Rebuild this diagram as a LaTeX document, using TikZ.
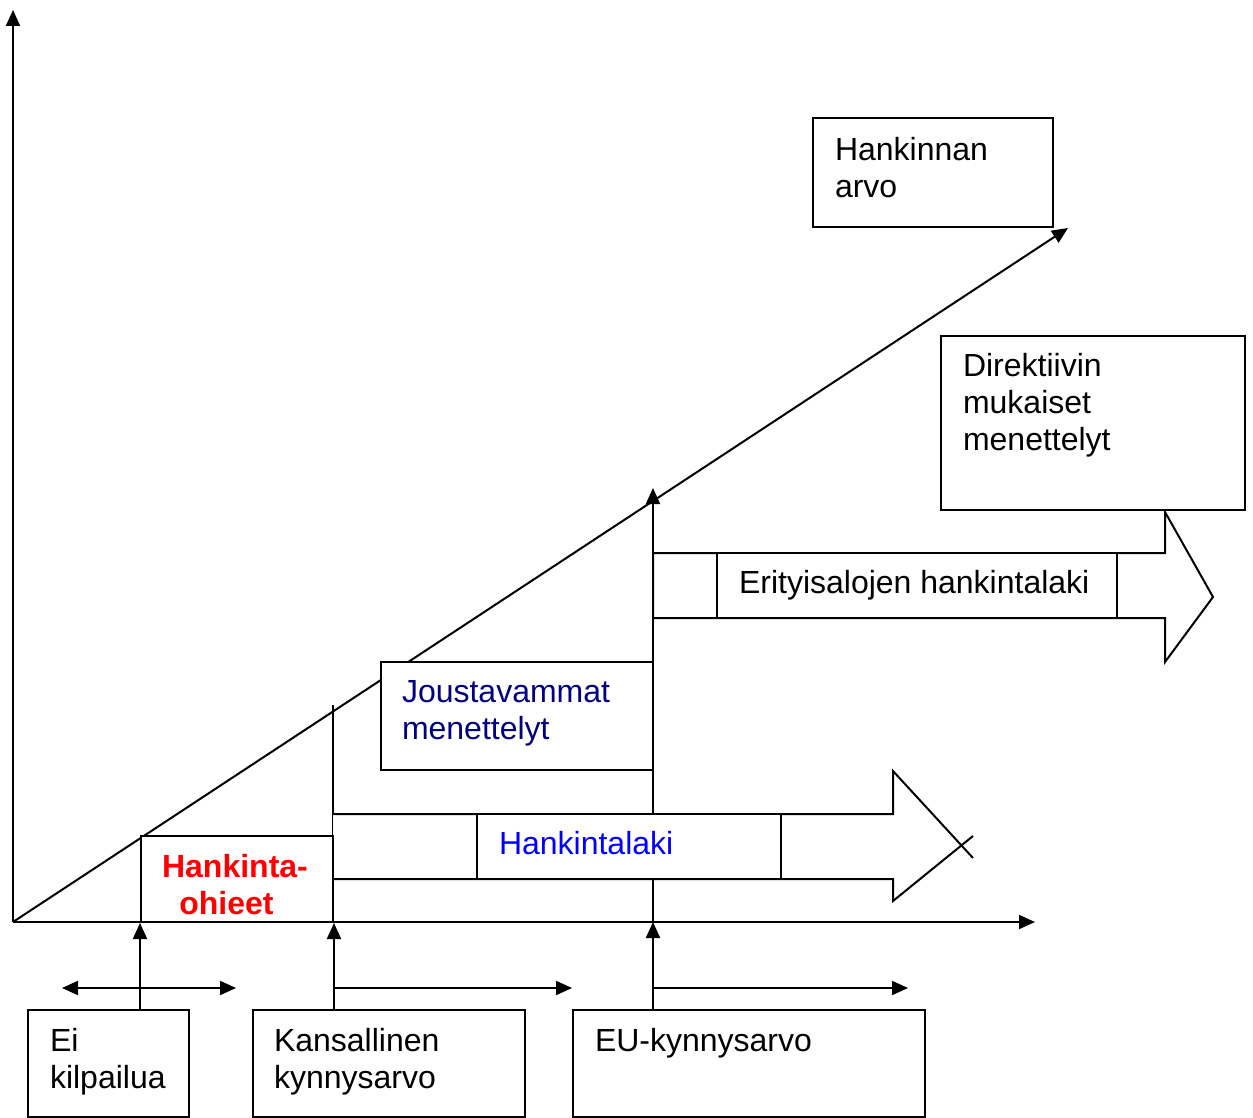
\documentclass[tikz,border=0pt]{standalone}
\usepackage{fontspec}
\setmainfont{Liberation Sans}
\usetikzlibrary{arrows.meta}
\definecolor{navyblue}{RGB}{0,0,128}
\definecolor{pureblue}{RGB}{0,0,255}
\definecolor{purered}{RGB}{255,0,0}
\begin{document}
\begin{tikzpicture}[x=1pt,y=-1pt,
  line width=2pt,
  tip/.style={-{Triangle[length=16pt,width=14pt]}},
  dtip/.style={{Triangle[length=16pt,width=14pt]}-{Triangle[length=16pt,width=14pt]}},
  box/.style={draw, fill=white, rectangle, inner sep=0pt},
  lbl/.style={inner sep=0pt, anchor=north west, align=left, font=\fontsize{32}{37}\selectfont},
  bigarrow/.style={draw, fill=white, line join=miter},
]
\useasboundingbox (0,0) rectangle (1253,1118);

% axes and diagonal
\coordinate (O) at (13,922);
\coordinate (Xe) at (1035,922);
\coordinate (Ye) at (13,10);
\coordinate (De) at (1068,228);
\draw[tip] (O) -- (Xe);
\draw[tip] (O) -- (Ye);
\draw[tip] (O) -- (De);

% threshold verticals above the axis
\coordinate (K0) at (333,922);
\coordinate (K1) at (333,705);
\coordinate (E0) at (653,922);
\coordinate (E1) at (653,488);
\draw (K0) -- (K1);
\draw[tip] (E0) -- (E1);

% big arrow: Hankintalaki
\path[fill=white] (333,814) -- (893,814) -- (893,771) -- (962,846) -- (893,901) -- (893,879) -- (333,879) -- cycle;
\draw (333,814) -- (893,814) -- (893,771) -- (973,858);
\draw (333,879) -- (893,879) -- (893,901) -- (973,836);

% big arrow: Erityisalojen hankintalaki
\draw[bigarrow] (653,553) -- (1165,553) -- (1165,512) -- (1213,597) -- (1165,662) -- (1165,618) -- (653,618) -- cycle;

% boxes
\node[box, minimum width=240pt, minimum height=109pt] (hv) at (933,172.5) {};
\node[box, minimum width=304pt, minimum height=174pt] (dir) at (1093,423) {};
\node[box, minimum width=400pt, minimum height=65pt] (eri) at (917,585.5) {};
\node[box, minimum width=304pt, minimum height=65pt] (hl) at (629,846.5) {};
\node[box, minimum width=272pt, minimum height=108pt] (jous) at (517,716) {};
\node[box, minimum width=192pt, minimum height=86pt] (ohj) at (237,879) {};
\node[box, minimum width=161pt, minimum height=107pt] (ei) at (108.5,1063.5) {};
\node[box, minimum width=272pt, minimum height=107pt] (kans) at (389,1063.5) {};
\node[box, minimum width=352pt, minimum height=107pt] (eu) at (749,1063.5) {};

% texts
\node[lbl] (hvt) at (834,136) {Hankinnan\\arvo};
\node[lbl] (dirt) at (962,352) {Direktiivin\\mukaiset\\menettelyt};
\node[lbl, anchor=base west] (erit) at (738,593) {Erityisalojen hankintalaki};
\node[lbl, anchor=base west, text=pureblue] (hlt) at (498,854) {Hankintalaki};
\node[lbl, text=navyblue] (joust) at (401,679) {Joustavammat\\menettelyt};
\node[lbl, anchor=north, align=center, text=purered, font=\fontsize{32}{37}\selectfont\bfseries] (ohjt) at (235,853) {Hankinta-\\ohieet\hspace*{17pt}};
\node[lbl] (eit) at (49,1027) {Ei\\kilpailua};
\node[lbl] (kanst) at (273,1027) {Kansallinen\\kynnysarvo};
\node[lbl, anchor=base west] (eut) at (594,1051) {EU-kynnysarvo};

% connectors from the threshold boxes
\draw[tip] (ohj.south west |- ei.north) -- (ohj.south west);
\draw[tip] (ohj.south east |- kans.north) -- (ohj.south east);
\draw[tip] (E0 |- eu.north) -- (E0);

% range arrows
\coordinate (H1a) at (62,988);
\coordinate (H1b) at (236,988);
\coordinate (H2b) at (572,988);
\coordinate (H3b) at (908,988);
\draw[dtip] (H1a) -- (H1b);
\draw[tip] (ohj.south east |- H1a) -- (H2b);
\draw[tip] (E0 |- H1a) -- (H3b);
\end{tikzpicture}
\end{document}
